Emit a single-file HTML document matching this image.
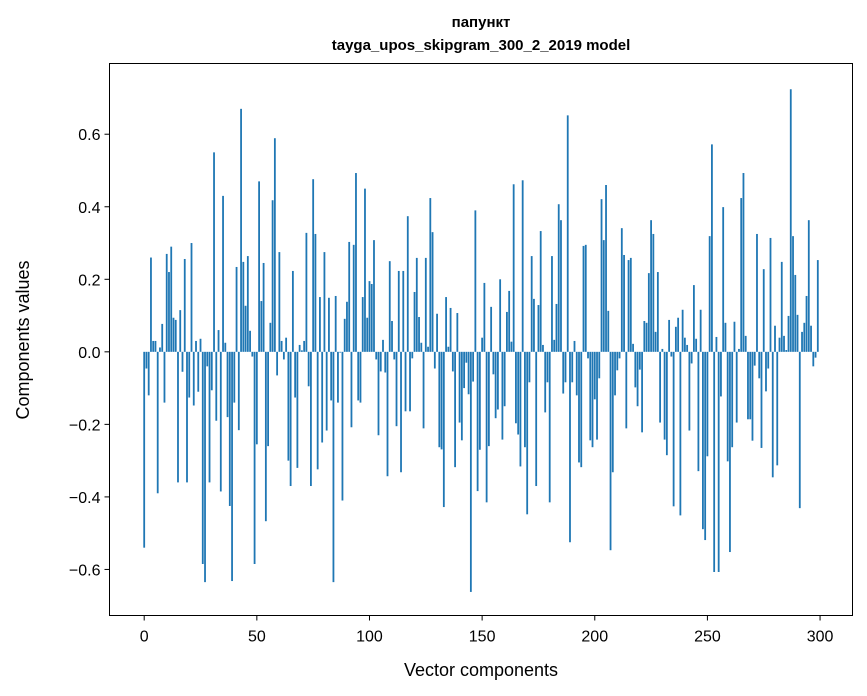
<!DOCTYPE html>
<html><head><meta charset="utf-8"><style>
html,body{margin:0;padding:0;background:#fff;}
svg{display:block;font-family:"Liberation Sans","DejaVu Sans",sans-serif;}
</style></head><body>
<svg id="chart" width="867" height="696" viewBox="0 0 867 696" xmlns="http://www.w3.org/2000/svg">
<rect width="867" height="696" fill="#fff"/>
<text x="481" y="27" text-anchor="middle" font-size="15" font-weight="bold">папункт</text>
<text x="481" y="50" text-anchor="middle" font-size="15" font-weight="bold">tayga_upos_skipgram_300_2_2019 model</text>
<g id="bars"></g>
<g id="xticks"></g>
<g id="yticks"></g>
<rect x="109.5" y="63.5" width="743" height="552" fill="none" stroke="#000" stroke-width="1"/>
<text x="481" y="676" text-anchor="middle" font-size="18">Vector components</text>
<text transform="translate(29,340) rotate(-90)" text-anchor="middle" font-size="18">Components values</text>
</svg>
<script>
const values = [
-0.54,-0.046,-0.12,0.26,0.03,0.03,-0.39,0.012,0.077,-0.14,
0.27,0.22,0.29,0.094,0.088,-0.36,0.115,-0.055,0.256,-0.36,
-0.126,0.30,-0.148,0.03,-0.11,0.036,-0.585,-0.635,-0.04,-0.36,
-0.106,0.55,-0.19,0.06,-0.385,0.43,0.025,-0.18,-0.425,-0.632,
-0.14,0.234,-0.216,0.67,0.248,0.127,0.264,0.058,-0.013,-0.585,
-0.255,0.47,0.14,0.245,-0.467,-0.26,0.08,0.418,0.589,-0.065,
0.275,0.03,-0.021,0.039,-0.30,-0.37,0.223,-0.126,-0.32,0.019,
0.004,0.03,0.328,-0.095,-0.37,0.476,0.325,-0.324,0.151,-0.25,
0.275,-0.217,0.149,-0.134,-0.635,0.154,-0.14,-0.002,-0.41,0.091,
0.138,0.303,-0.208,0.295,0.493,-0.134,-0.14,0.151,0.45,0.094,
0.195,0.187,0.308,-0.021,-0.23,-0.054,0.033,-0.057,-0.343,0.25,
0.085,-0.021,-0.205,0.223,-0.332,0.223,-0.164,0.374,-0.164,-0.018,
0.165,0.259,0.096,0.025,-0.211,0.259,0.014,0.424,0.33,-0.046,
0.105,-0.263,-0.269,-0.428,0.151,0.014,0.121,-0.054,-0.318,0.107,
-0.195,-0.244,-0.1,-0.03,-0.117,-0.662,-0.082,0.39,-0.384,-0.27,
0.039,0.19,-0.415,-0.26,0.124,-0.062,-0.183,-0.159,0.2,-0.242,
-0.15,0.11,0.168,0.028,0.462,-0.197,-0.228,-0.316,0.473,-0.263,
-0.448,-0.084,0.264,0.146,-0.37,0.129,0.333,0.019,-0.167,-0.084,
-0.415,0.264,0.033,0.132,0.407,0.363,-0.115,-0.084,0.652,-0.525,
-0.084,0.03,-0.12,-0.305,-0.318,0.292,0.295,-0.018,-0.244,-0.263,
-0.131,-0.242,-0.073,0.421,0.308,0.46,0.113,-0.547,-0.332,-0.12,
-0.051,-0.018,0.341,0.267,-0.211,0.253,0.259,0.022,-0.098,-0.15,
-0.049,-0.222,0.085,0.08,0.217,0.363,0.325,0.055,0.22,-0.195,
0.008,-0.242,-0.285,0.088,-0.013,-0.426,0.069,0.094,-0.451,0.116,
0.039,0.019,-0.217,-0.032,0.184,0.036,-0.329,0.116,-0.489,-0.519,
-0.288,0.319,0.572,-0.607,0.041,-0.607,-0.123,0.399,0.08,-0.302,
-0.552,-0.263,0.083,-0.195,0.008,0.424,0.493,0.044,-0.186,-0.186,
-0.245,-0.038,0.325,-0.073,-0.265,0.228,-0.109,-0.046,0.314,-0.346,
0.072,-0.313,0.039,0.248,0.044,0.005,0.099,0.724,0.319,0.212,
0.102,-0.431,0.055,0.08,0.154,0.363,0.072,-0.04,-0.016,0.253
];
const xTicks = [0,50,100,150,200,250,300];
const yTicks = [-0.6,-0.4,-0.2,0.0,0.2,0.4,0.6];

const X0=109.5, X1=852.5, Y0=63.5, Y1=615.5;
const xmin=-15.4, xmax=314.4, ymin=-0.727, ymax=0.795;
const xs = v => X0 + (v-xmin)/(xmax-xmin)*(X1-X0);
const ys = v => Y1 - (v-ymin)/(ymax-ymin)*(Y1-Y0);
const NS="http://www.w3.org/2000/svg";
const bars=document.getElementById('bars');
const bw = 0.8*(X1-X0)/(xmax-xmin);
values.forEach((v,i)=>{
  const r=document.createElementNS(NS,'rect');
  
  
  const y=Math.min(ys(v),ys(0)), h=Math.abs(ys(v)-ys(0));
  r.setAttribute('x', xs(i)-bw/2);
  r.setAttribute('y', y);
  r.setAttribute('width', bw);
  r.setAttribute('height', Math.max(h,0.3));
  r.setAttribute('fill', '#1f77b4');
  bars.appendChild(r);
});
const xg=document.getElementById('xticks');
xTicks.forEach(t=>{
  const l=document.createElementNS(NS,'line');
  
  
  l.setAttribute('x1',xs(t));l.setAttribute('x2',xs(t));
  l.setAttribute('y1',Y1);l.setAttribute('y2',Y1+5);
  l.setAttribute('stroke','#000');
  xg.appendChild(l);
  const tx=document.createElementNS(NS,'text');
  
  
  tx.setAttribute('x',xs(t));tx.setAttribute('y',Y1+26);
  tx.setAttribute('text-anchor','middle');tx.setAttribute('font-size','16');
  tx.textContent=String(t);
  xg.appendChild(tx);
});
const yg=document.getElementById('yticks');
yTicks.forEach(t=>{
  const l=document.createElementNS(NS,'line');
  
  
  l.setAttribute('x1',X0-5);l.setAttribute('x2',X0);
  l.setAttribute('y1',ys(t));l.setAttribute('y2',ys(t));
  l.setAttribute('stroke','#000');
  yg.appendChild(l);
  const tx=document.createElementNS(NS,'text');
  
  
  tx.setAttribute('x',X0-9);tx.setAttribute('y',ys(t)+6);
  tx.setAttribute('text-anchor','end');tx.setAttribute('font-size','16');
  tx.textContent=(t<0?'\u2212':'')+Math.abs(t).toFixed(1);
  yg.appendChild(tx);
});
</script>
</body></html>
